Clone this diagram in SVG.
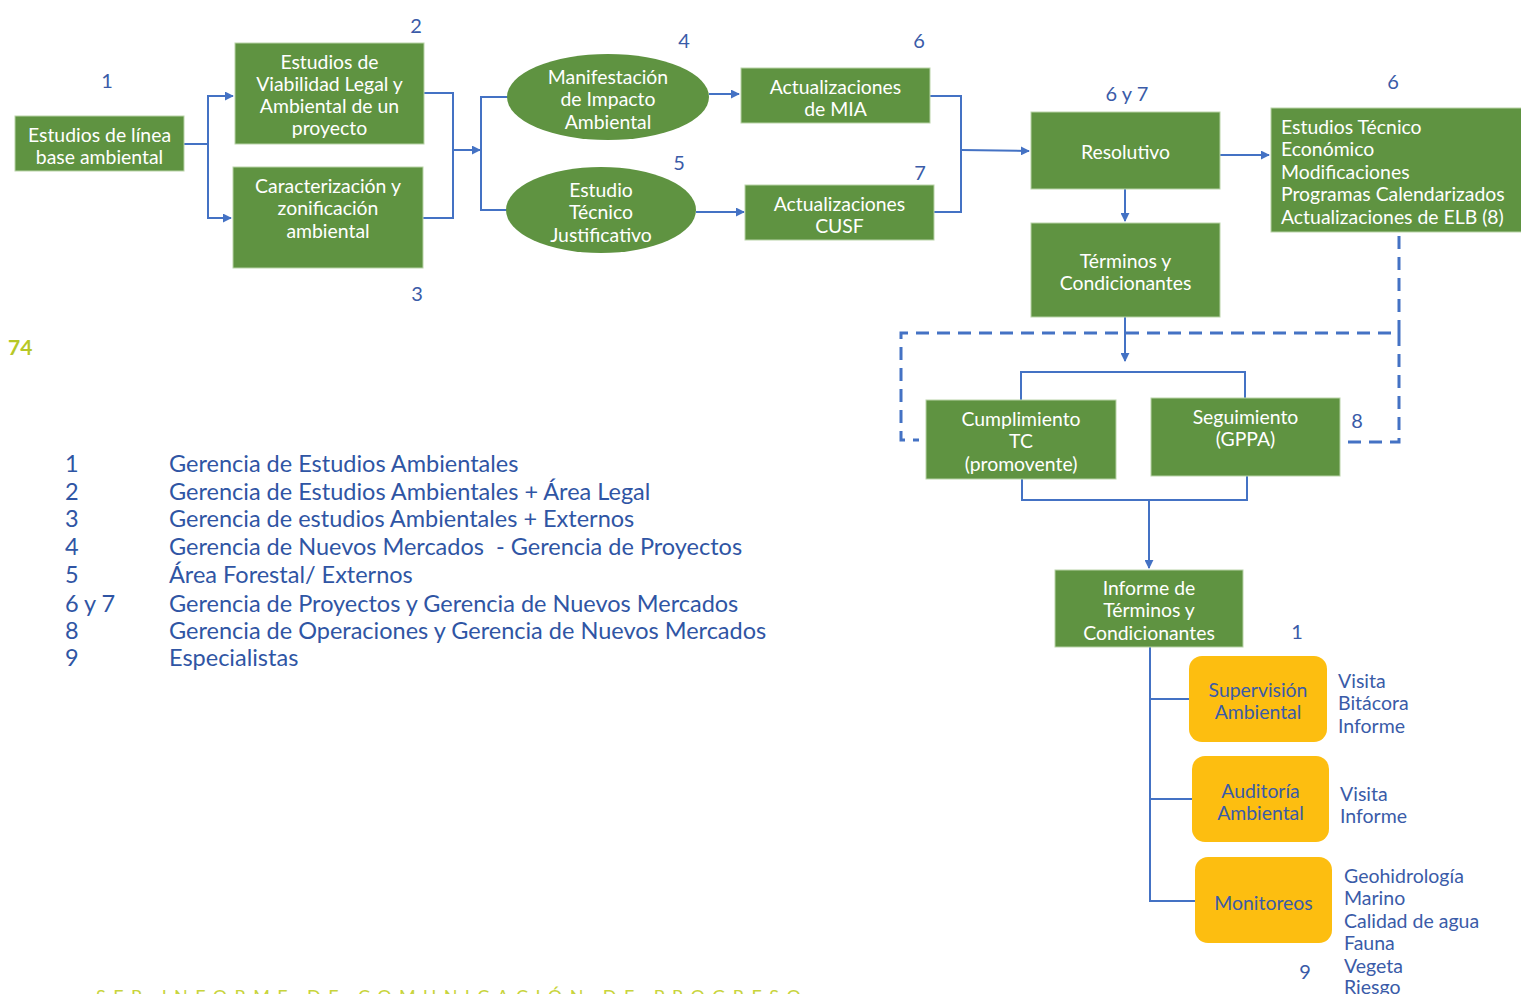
<svg xmlns="http://www.w3.org/2000/svg" width="1521" height="994" viewBox="0 0 1521 994">
<style>
.g{fill:#5F9341;stroke:#B9D3A8;stroke-width:1}
.y{fill:#FDBE10}
.t{font-family:Lato,"Liberation Sans",sans-serif;font-size:19.4px;fill:#fff;text-anchor:middle;dominant-baseline:central}
.tl{font-family:Lato,"Liberation Sans",sans-serif;font-size:19.4px;fill:#fff;dominant-baseline:central}
.ty{font-family:Lato,"Liberation Sans",sans-serif;font-size:19.4px;fill:#3A5BA8;text-anchor:middle;dominant-baseline:central}
.b{font-family:Lato,"Liberation Sans",sans-serif;font-size:19.5px;fill:#3A5BA8;dominant-baseline:central}
.n{font-family:Lato,"Liberation Sans",sans-serif;font-size:20px;fill:#3A5BA8;text-anchor:middle;dominant-baseline:central}
.lg{font-family:Lato,"Liberation Sans",sans-serif;font-size:23.5px;fill:#2F55A4;dominant-baseline:central}
.c{fill:none;stroke:#4472C4;stroke-width:2}
.d{fill:none;stroke:#4472C4;stroke-width:3;stroke-dasharray:13 8}
</style>
<defs>
<marker id="a" viewBox="0 0 10 10" refX="9" refY="5" markerWidth="4.5" markerHeight="4.5" orient="auto" markerUnits="strokeWidth">
<path d="M0,0 L10,5 L0,10 z" fill="#4472C4"/>
</marker>
</defs>
<rect width="1521" height="994" fill="#fff"/>

<g id="connectors">
<path class="c" d="M184,144 H208 V96 H233" marker-end="url(#a)"/>
<path class="c" d="M208,144 V218 H231" marker-end="url(#a)"/>
<path class="c" d="M424,93 H453 V218 H423"/>
<path class="c" d="M453,150 H480" marker-end="url(#a)"/>
<path class="c" d="M510,97 H481 V210 H508"/>
<path class="c" d="M709,94 H739" marker-end="url(#a)"/>
<path class="c" d="M696,212 H744" marker-end="url(#a)"/>
<path class="c" d="M930,96 H961 V212 H934"/>
<path class="c" d="M961,150 L1029,151" marker-end="url(#a)"/>
<path class="c" d="M1220,155 H1269" marker-end="url(#a)"/>
<path class="c" d="M1125,189 V221" marker-end="url(#a)"/>
<path class="c" d="M1125,317 V361" marker-end="url(#a)"/>
<path class="c" d="M1021,400 V372 H1245 V398"/>
<path class="c" d="M1022,479 V500 H1247 V476"/>
<path class="c" d="M1149,500 V568" marker-end="url(#a)"/>
<path class="c" d="M1150,647 V901 H1195"/>
<path class="c" d="M1150,699 H1189"/>
<path class="c" d="M1150,799 H1192"/>
<path class="d" d="M1399,236 V333 H901 V440 H919"/>
<path class="d" d="M1399,333 V442 H1343"/>
</g>

<g id="n1"><rect class="g" x="15" y="116" width="169" height="55"/>
<text class="t" x="99.5" y="134">Estudios de línea</text><text class="t" x="99.5" y="156">base ambiental</text></g>
<g id="n2"><rect class="g" x="235" y="43" width="189" height="101"/>
<text class="t" x="329.5" y="61">Estudios de</text><text class="t" x="329.5" y="83">Viabilidad Legal y</text><text class="t" x="329.5" y="105">Ambiental de un</text><text class="t" x="329.5" y="127">proyecto</text></g>
<g id="n3"><rect class="g" x="233" y="167" width="190" height="101"/>
<text class="t" x="328" y="185">Caracterización y</text><text class="t" x="328" y="207">zonificación</text><text class="t" x="328" y="230">ambiental</text></g>
<g id="n4"><ellipse cx="608" cy="97" rx="101" ry="43" fill="#5F9341"/>
<text class="t" x="608" y="76">Manifestación</text><text class="t" x="608" y="98">de Impacto</text><text class="t" x="608" y="121">Ambiental</text></g>
<g id="n5"><ellipse cx="601" cy="210" rx="95" ry="43" fill="#5F9341"/>
<text class="t" x="601" y="189">Estudio</text><text class="t" x="601" y="211">Técnico</text><text class="t" x="601" y="234">Justificativo</text></g>
<g id="n6"><rect class="g" x="741" y="68" width="189" height="55"/>
<text class="t" x="835.5" y="86">Actualizaciones</text><text class="t" x="835.5" y="108">de MIA</text></g>
<g id="n7"><rect class="g" x="745" y="185" width="189" height="55"/>
<text class="t" x="839.5" y="203">Actualizaciones</text><text class="t" x="839.5" y="225">CUSF</text></g>
<g id="n8"><rect class="g" x="1031" y="112" width="189" height="77"/>
<text class="t" x="1125.5" y="151">Resolutivo</text></g>
<g id="n9"><rect class="g" x="1271" y="108" width="252" height="124"/>
<text class="tl" x="1281" y="126">Estudios Técnico</text><text class="tl" x="1281" y="148">Económico</text><text class="tl" x="1281" y="171">Modificaciones</text><text class="tl" x="1281" y="193">Programas Calendarizados</text><text class="tl" x="1281" y="216">Actualizaciones de ELB (8)</text></g>
<g id="n10"><rect class="g" x="1031" y="223" width="189" height="94"/>
<text class="t" x="1125.5" y="260">Términos y</text><text class="t" x="1125.5" y="282">Condicionantes</text></g>
<g id="n11"><rect class="g" x="926" y="400" width="190" height="79"/>
<text class="t" x="1021" y="418">Cumplimiento</text><text class="t" x="1021" y="440">TC</text><text class="t" x="1021" y="463">(promovente)</text></g>
<g id="n12"><rect class="g" x="1151" y="398" width="189" height="78"/>
<text class="t" x="1245.5" y="416">Seguimiento</text><text class="t" x="1245.5" y="438">(GPPA)</text></g>
<g id="n13"><rect class="g" x="1055" y="570" width="188" height="77"/>
<text class="t" x="1149" y="587">Informe de</text><text class="t" x="1149" y="609">Términos y</text><text class="t" x="1149" y="632">Condicionantes</text></g>
<g id="n14"><rect class="y" x="1189" y="656" width="138" height="86" rx="13"/>
<text class="ty" x="1258" y="689">Supervisión</text><text class="ty" x="1258" y="711">Ambiental</text></g>
<g id="n15"><rect class="y" x="1192" y="756" width="137" height="86" rx="13"/>
<text class="ty" x="1260.5" y="790">Auditoría</text><text class="ty" x="1260.5" y="812">Ambiental</text></g>
<g id="n16"><rect class="y" x="1195" y="857" width="137" height="86" rx="13"/>
<text class="ty" x="1263.5" y="902">Monitoreos</text></g>

<g id="labels">
<text class="n" x="107" y="80">1</text>
<text class="n" x="416" y="25">2</text>
<text class="n" x="417" y="293">3</text>
<text class="n" x="684" y="40">4</text>
<text class="n" x="679" y="162">5</text>
<text class="n" x="919" y="40">6</text>
<text class="n" x="920" y="172">7</text>
<text class="n" x="1127" y="93">6 y 7</text>
<text class="n" x="1393" y="81">6</text>
<text class="n" x="1357" y="420">8</text>
<text class="n" x="1297" y="631">1</text>
<text class="n" x="1305" y="971">9</text>
<text class="b" x="1338" y="680">Visita</text><text class="b" x="1338" y="702">Bitácora</text><text class="b" x="1338" y="725">Informe</text>
<text class="b" x="1340" y="793">Visita</text><text class="b" x="1340" y="815">Informe</text>
<text class="b" x="1344" y="875">Geohidrología</text><text class="b" x="1344" y="897">Marino</text><text class="b" x="1344" y="920">Calidad de agua</text><text class="b" x="1344" y="942">Fauna</text><text class="b" x="1344" y="965">Vegeta</text><text class="b" x="1344" y="986">Riesgo</text>
</g>

<g id="legend">
<text class="lg" x="65" y="463">1</text><text class="lg" x="169" y="463">Gerencia de Estudios Ambientales</text>
<text class="lg" x="65" y="491">2</text><text class="lg" x="169" y="491">Gerencia de Estudios Ambientales + Área Legal</text>
<text class="lg" x="65" y="518">3</text><text class="lg" x="169" y="518">Gerencia de estudios Ambientales + Externos</text>
<text class="lg" x="65" y="546">4</text><text class="lg" x="169" y="546" xml:space="preserve">Gerencia de Nuevos Mercados  - Gerencia de Proyectos</text>
<text class="lg" x="65" y="574">5</text><text class="lg" x="169" y="574">Área Forestal/ Externos</text>
<text class="lg" x="65" y="603">6 y 7</text><text class="lg" x="169" y="603">Gerencia de Proyectos y Gerencia de Nuevos Mercados</text>
<text class="lg" x="65" y="630">8</text><text class="lg" x="169" y="630">Gerencia de Operaciones y Gerencia de Nuevos Mercados</text>
<text class="lg" x="65" y="657">9</text><text class="lg" x="169" y="657">Especialistas</text>
</g>

<g id="page">
<text x="8" y="355" font-family="Lato,'Liberation Sans',sans-serif" font-size="21" font-weight="bold" fill="#B7C826">74</text>
<text x="96" y="1003" font-family="Lato,'Liberation Sans',sans-serif" font-size="18" letter-spacing="7.4" fill="#C8D43C">SER INFORME DE COMUNICACIÓN DE PROGRESO</text>
</g>
</svg>
